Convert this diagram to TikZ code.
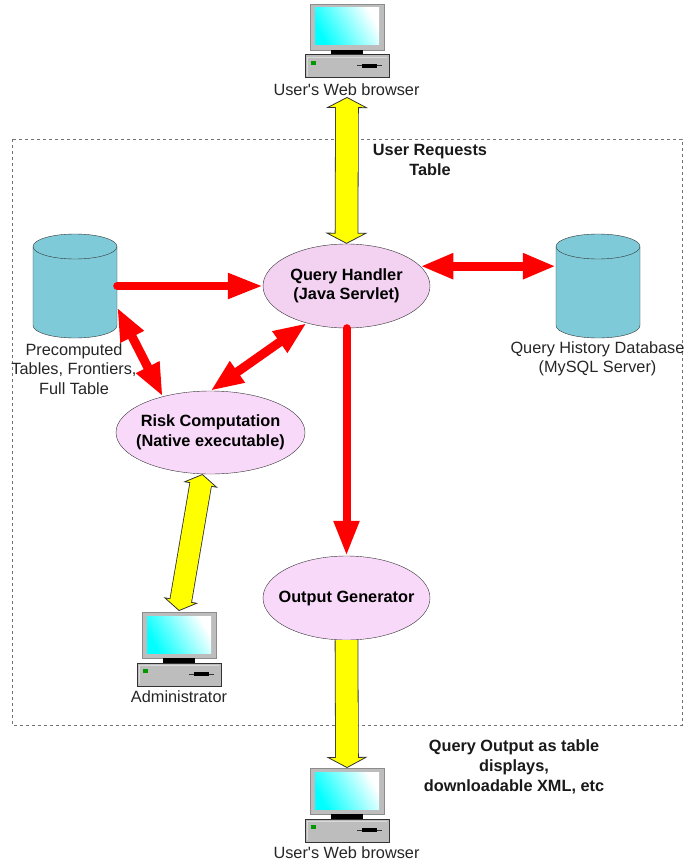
\documentclass[tikz,border=0pt]{standalone}
\usepackage{fontspec}
\setmainfont{Liberation Sans}
\usetikzlibrary{arrows.meta,shapes.geometric}
\definecolor{dbteal}{HTML}{7FCAD8}
\definecolor{handlerpink}{HTML}{F2D1F1}
\definecolor{procpink}{HTML}{F9D9F9}
\definecolor{boxgray}{HTML}{BDBDBD}
\definecolor{linkyellow}{RGB}{255,255,0}
\definecolor{linkred}{RGB}{255,0,0}
\definecolor{screencyan}{RGB}{0,255,255}
\tikzset{
    proc/.style={ellipse, draw=black!80, fill=procpink, inner xsep=-40pt, inner ysep=-20pt, minimum width=167pt, minimum height=84pt, font=\fontsize{16.3}{19.5}\selectfont\bfseries, align=center},
    db/.style={minimum width=84pt, minimum height=104pt, inner sep=0pt},
    lbl/.style={font=\fontsize{16.3}{19.5}\selectfont, align=center, text=black!85, inner sep=0pt},
    note/.style={font=\fontsize{16.3}{20}\selectfont\bfseries, align=center, text=black!90, inner sep=0pt},
    redboth/.style={draw=linkred, line width=9pt, {Triangle[length=33pt,width=24pt]}-{Triangle[length=33pt,width=24pt]}},
    redone/.style={draw=linkred, line width=8pt, line cap=round, -{Triangle[length=35pt,width=24pt]}},
    yellowboth/.style 2 args={draw=black!80, line width=#1+1.6pt, {Triangle[length=11pt,width=#2,fill=linkyellow,line width=.8pt]}-{Triangle[length=11pt,width=#2,fill=linkyellow,line width=.8pt]},
        postaction={draw=linkyellow, line width=#1, -, shorten <=8pt, shorten >=8pt}},
    yellowone/.style 2 args={draw=black!80, line width=#1+1.6pt, -{Triangle[length=11pt,width=#2,fill=linkyellow,line width=.8pt]},
        postaction={draw=linkyellow, line width=#1, -, shorten >=8pt}},
    pics/computer/.style={code={
        \draw [black!45, fill=boxgray, line width=.8pt] (-37,0) rectangle (37,46);
        \shade [left color=white, middle color=screencyan, right color=screencyan, shading angle=-60] (-32,4) rectangle (32,41);
        \fill (-16,46) rectangle (16,51);
        \draw [black!80, fill=boxgray, line width=1pt] (-42,51) rectangle (42,74);
        \draw [white!85!black, line width=.8pt] (-40,53) -- (40,53) (-40,53) -- (-40,72);
        \fill [green!60!black] (-36,57) rectangle (-31,61);
        \draw [black!80, line width=1pt] (10,62) -- (35,62);
        \draw [black, line width=3.5pt] (15,62) -- (30,62);
    }},
    pics/drum/.style={code={
        \draw [black!80, fill=dbteal] (-42,-39.5) -- (-42,39.5) arc [start angle=180, end angle=0, x radius=42, y radius=12.5] -- (42,-39.5);
        \draw [black!80, fill=dbteal] (0,-39.5) ellipse [x radius=42, y radius=12.5];
    }}
}
\begin{document}
\begin{tikzpicture}[x=1pt,y=-1pt]
    \useasboundingbox (0,0) rectangle (684,864);
    \draw [dashed, black!55, line width=.6pt] (12,139) rectangle (682,725);

    % computers
    \pic at (347,4) {computer};
    \pic at (179,612) {computer};
    \pic at (347,768) {computer};
    \node [lbl] (browsertop) at (346.5,90) {User\textquotesingle s Web browser};
    \node [lbl] (admin) at (179,697) {Administrator};
    \node [lbl] (browserbottom) at (346.5,853) {User\textquotesingle s Web browser};
    \coordinate (browsertopin) at (347,97);
    \coordinate (admintop) at (179,611);
    \coordinate (browserbottomin) at (347,768);

    % processes
    \node [proc, fill=handlerpink] (handler) at (346.5,286) {Query Handler\\(Java Servlet)};
    \node [proc, minimum width=189pt, minimum height=83pt] (risk) at (210.5,432.5) {Risk Computation\\(Native executable)};
    \node [proc] (output) at (346.5,598) {Output Generator};

    % databases
    \node [db] (tables) at (75,286) {};
    \node [db] (history) at (598,286) {};
    \pic at (tables.center) {drum};
    \pic at (history.center) {drum};
    \node [lbl] (tableslabel) at (74,369) {Precomputed\\Tables, Frontiers,\\Full Table};
    \node [lbl] (historylabel) at (597.5,359) {Query History Database\\(MySQL Server)};

    % notes
    \node [note] (requests) at (430,160) {User Requests\\Table};
    \node [note] (querynote) at (514,767) {Query Output as table\\displays,\\downloadable XML, etc};

    % red arrows
    \draw [redone] (tables.east) -- (handler.west);
    \draw [redone] (handler.south) -- (output.north);
    \draw [redboth] (handler.15) -- (history.west |- handler.15);
    \draw [redboth] (risk.90) -- (handler.223);
    \draw [redboth] (tables.-27) -- (risk.143);

    % yellow arrows
    \draw [yellowboth={22pt}{42pt}] (browsertopin) -- (handler.north);
    \draw [yellowboth={21pt}{35pt}] (risk.259) -- (admintop);
    \draw [yellowone={22pt}{41pt}] (output.south) -- (browserbottomin);
\end{tikzpicture}
\end{document}
